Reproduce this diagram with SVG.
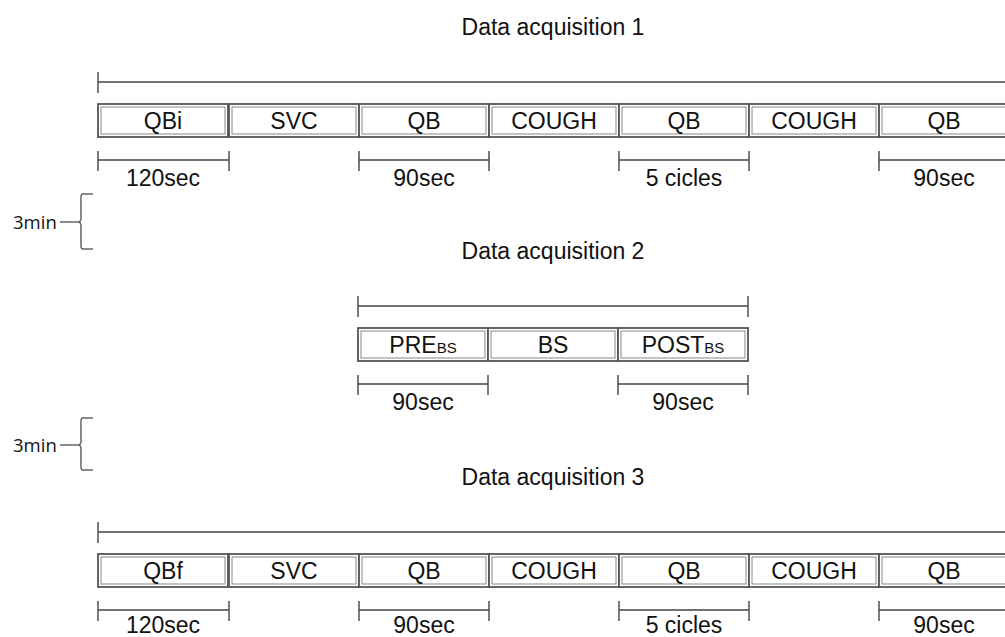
<svg xmlns="http://www.w3.org/2000/svg" width="1005" height="637" viewBox="0 0 1005 637">
<style>
.t{font-family:"Liberation Sans",Arial,sans-serif;font-size:23px;fill:#111;text-anchor:middle}
.c{font-family:"Liberation Sans",Arial,sans-serif;font-size:23px;fill:#111;text-anchor:middle}
.m{font-family:"Open Sans","Liberation Sans",sans-serif;font-size:18.5px;fill:#111}
.o{fill:#fff;stroke:#555;stroke-width:1.8}
.i{fill:none;stroke:#888;stroke-width:1}
.ln{stroke:#444;stroke-width:1.4;fill:none}
.br{stroke:#666;stroke-width:1.5;fill:none}
</style>
<rect width="1005" height="637" fill="#fff"/>
<defs>
<g id="cell"><rect class="o" x="0" y="0" width="130" height="33"/><rect class="i" x="3" y="3" width="124" height="27"/></g>
</defs>

<g id="connectors">
<path class="ln" d="M98 82H1005M98 72V93"/>
<path class="ln" d="M98 160H229M98 151V171M229 151V171"/>
<path class="ln" d="M359 160H489M359 151V171M489 151V171"/>
<path class="ln" d="M619 160H749M619 151V171M749 151V171"/>
<path class="ln" d="M879 160H1005M879 151V171"/>
<path class="ln" d="M358 306H748M358 296V317M748 296V317"/>
<path class="ln" d="M358 384H488M358 375V395M488 375V395"/>
<path class="ln" d="M618 384H748M618 375V395M748 375V395"/>
<path class="ln" d="M98 532H1005M98 522V543"/>
<path class="ln" d="M98 610H229M98 601V621M229 601V621"/>
<path class="ln" d="M359 610H489M359 601V621M489 601V621"/>
<path class="ln" d="M619 610H749M619 601V621M749 601V621"/>
<path class="ln" d="M879 610H1005M879 601V621"/>
</g>

<g id="titles">
<text class="t" x="553" y="35">Data acquisition 1</text>
<text class="t" x="553" y="259">Data acquisition 2</text>
<text class="t" x="553" y="485">Data acquisition 3</text>
</g>

<g id="brace1">
<path class="br" d="M93 194H83Q81 194 81 197V218Q81 222 78 222H60M78 222Q81 222 81 226V246Q81 249 83 249H93"/>
<text class="m" x="13" y="229">3min</text>
</g>
<g id="brace2">
<path class="br" d="M93 418H83Q81 418 81 421V441Q81 445 78 445H60M78 445Q81 445 81 449V467Q81 470 83 470H93"/>
<text class="m" x="13" y="452">3min</text>
</g>

<g id="row1">
<g id="r1c1"><use href="#cell" x="98" y="104"/><text class="c" x="163" y="129">QBi</text></g>
<g id="r1c2"><use href="#cell" x="229" y="104"/><text class="c" x="294" y="129">SVC</text></g>
<g id="r1c3"><use href="#cell" x="359" y="104"/><text class="c" x="424" y="129">QB</text></g>
<g id="r1c4"><use href="#cell" x="489" y="104"/><text class="c" x="554" y="129">COUGH</text></g>
<g id="r1c5"><use href="#cell" x="619" y="104"/><text class="c" x="684" y="129">QB</text></g>
<g id="r1c6"><use href="#cell" x="749" y="104"/><text class="c" x="814" y="129">COUGH</text></g>
<g id="r1c7"><use href="#cell" x="879" y="104"/><text class="c" x="944" y="129">QB</text></g>
<text class="c" x="163" y="186">120sec</text>
<text class="c" x="424" y="186">90sec</text>
<text class="c" x="684" y="186">5 cicles</text>
<text class="c" x="944" y="186">90sec</text>
</g>

<g id="row2">
<g id="r2c1"><use href="#cell" x="358" y="328"/><text class="c" x="423" y="353">PRE<tspan font-size="15">BS</tspan></text></g>
<g id="r2c2"><use href="#cell" x="488" y="328"/><text class="c" x="553" y="353">BS</text></g>
<g id="r2c3"><use href="#cell" x="618" y="328"/><text class="c" x="683" y="353">POST<tspan font-size="15">BS</tspan></text></g>
<text class="c" x="423" y="410">90sec</text>
<text class="c" x="683" y="410">90sec</text>
</g>

<g id="row3">
<g id="r3c1"><use href="#cell" x="98" y="554"/><text class="c" x="163" y="579">QBf</text></g>
<g id="r3c2"><use href="#cell" x="229" y="554"/><text class="c" x="294" y="579">SVC</text></g>
<g id="r3c3"><use href="#cell" x="359" y="554"/><text class="c" x="424" y="579">QB</text></g>
<g id="r3c4"><use href="#cell" x="489" y="554"/><text class="c" x="554" y="579">COUGH</text></g>
<g id="r3c5"><use href="#cell" x="619" y="554"/><text class="c" x="684" y="579">QB</text></g>
<g id="r3c6"><use href="#cell" x="749" y="554"/><text class="c" x="814" y="579">COUGH</text></g>
<g id="r3c7"><use href="#cell" x="879" y="554"/><text class="c" x="944" y="579">QB</text></g>
<text class="c" x="163" y="633">120sec</text>
<text class="c" x="424" y="633">90sec</text>
<text class="c" x="684" y="633">5 cicles</text>
<text class="c" x="944" y="633">90sec</text>
</g>
</svg>
